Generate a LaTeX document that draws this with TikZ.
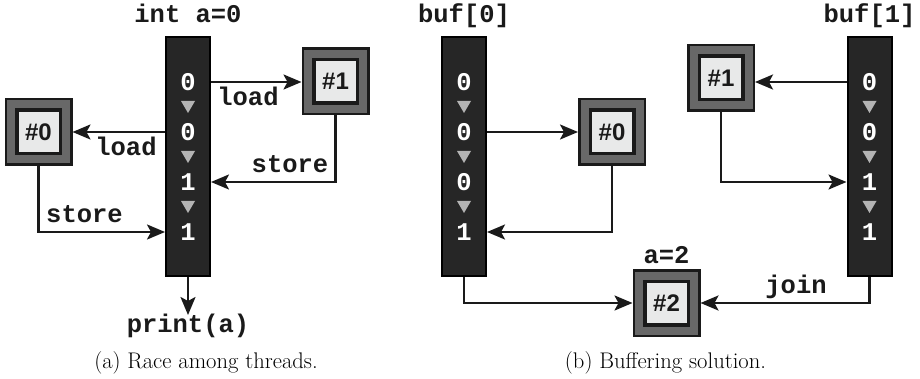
\documentclass[tikz,border=0pt]{standalone}
\usepackage{fontspec}
\newfontfamily\monof{Liberation Mono}
\newfontfamily\sansf{Liberation Sans}
\usetikzlibrary{arrows.meta}
\definecolor{barfill}{HTML}{262626}
\definecolor{boxgrey}{HTML}{686868}
\definecolor{boxlight}{HTML}{E8E9E9}
\definecolor{trigrey}{HTML}{B4B4B4}
\definecolor{ink}{HTML}{1A1A1A}
\tikzset{
  barbox/.style={rectangle, draw=black, fill=barfill, line width=2pt, minimum width=44pt, minimum height=239pt, inner sep=0pt},
  digit/.style={text=white, font=\monof\bfseries\fontsize{25.5}{30}\selectfont, inner sep=0pt},
  lbl/.style={text=ink, font=\monof\bfseries\fontsize{25.5}{30}\selectfont, inner sep=0pt, anchor=base},
  outerbox/.style={rectangle, draw=ink, fill=boxgrey, line width=2.5pt, minimum size=65.5pt, inner sep=0pt},
  innerbox/.style={rectangle, draw=ink, fill=boxlight, line width=3.5pt, minimum size=43.5pt, inner sep=0pt, text=ink, font=\sansf\bfseries\fontsize{24}{30}\selectfont},
  arr/.style={draw=ink, line width=2.5pt, -{Stealth[length=18pt,width=15pt,inset=4pt]}},
  capt/.style={text=black, font=\fontsize{22.6}{26}\selectfont, inner sep=0pt, anchor=base},
  tri/.style={fill=trigrey, draw=none}
}
\newcommand{\downtri}[2]{\fill[tri] (#1-7,#2-6) -- (#1+7,#2-6) -- (#1,#2+6) -- cycle;}
\begin{document}
\begin{tikzpicture}[x=1pt,y=-1pt]
\useasboundingbox (0,0) rectangle (920,379);
% ---------- (a) ----------
\node[barbox] (barA) at (188,156.5) {};
\node[digit] (a0) at (188,82) {0};
\node[digit] (a1) at (188,132) {0};
\node[digit] (a2) at (188,182) {1};
\node[digit] (a3) at (188,232) {1};
\downtri{188}{107}
\downtri{188}{157}
\downtri{188}{207}
\node[lbl] (la) at (188,23) {int a=0};

\node[outerbox] (t1) at (335.5,81.5) {};
\node[innerbox] (t1i) at (t1) {\#1};
\node[outerbox] (t0) at (38.5,132) {};
\node[innerbox] (t0i) at (t0) {\#0};

\draw[arr] (barA.east |- a0) -- (t1.west |- a0);
\draw[arr] (barA.west |- a1) -- (t0.east |- a1);
\draw[arr] (t1.south) |- (barA.east |- a2);
\draw[arr] (t0.south) |- (barA.west |- a3);
\coordinate (pend) at (188,315);
\draw[arr] (barA.south) -- (pend);

\node[lbl] (ld1) at (248,106) {load};
\node[lbl] (ld0) at (126,156) {load};
\node[lbl] (st1) at (290,173) {store};
\node[lbl] (st0) at (84.5,223) {store};
\node[lbl] (pr) at (188,332) {print(a)};
\node[capt] (capA) at (206,368) {(a) Race among threads.};

% ---------- (b) ----------
\node[barbox] (barB) at (464,156.5) {};
\node[digit] (b0) at (464,82) {0};
\node[digit] (b1) at (464,132) {0};
\node[digit] (b2) at (464,182) {0};
\node[digit] (b3) at (464,232) {1};
\downtri{464}{107}
\downtri{464}{157}
\downtri{464}{207}
\node[lbl] (lb) at (464,23) {buf[0]};

\node[barbox] (barC) at (869.5,156.5) {};
\node[digit] (c0) at (869.5,82) {0};
\node[digit] (c1) at (869.5,132) {0};
\node[digit] (c2) at (869.5,182) {1};
\node[digit] (c3) at (869.5,232) {1};
\downtri{869.5}{107}
\downtri{869.5}{157}
\downtri{869.5}{207}
\node[lbl] (lc) at (869.5,23) {buf[1]};

\node[outerbox] (u0) at (612,132) {};
\node[innerbox] (u0i) at (u0) {\#0};
\node[outerbox] (u1) at (721,78) {};
\node[innerbox] (u1i) at (u1) {\#1};
\node[outerbox] (u2) at (666.5,303) {};
\node[innerbox] (u2i) at (u2) {\#2};
\node[lbl] (la2) at (666.5,263) {a=2};

\draw[arr] (barB.east |- b1) -- (u0.west |- b1);
\draw[arr] (u0.south) |- (barB.east |- b3);
\draw[arr] (barC.west |- c0) -- (u1.east |- c0);
\draw[arr] (u1.south) |- (barC.west |- c2);
\draw[arr] (barB.south) |- (u2.west);
\draw[arr] (barC.south) |- (u2.east);
\node[lbl] (jn) at (796,293) {join};
\node[capt] (capB) at (665.5,368) {(b) Buffering solution.};
\end{tikzpicture}
\end{document}
